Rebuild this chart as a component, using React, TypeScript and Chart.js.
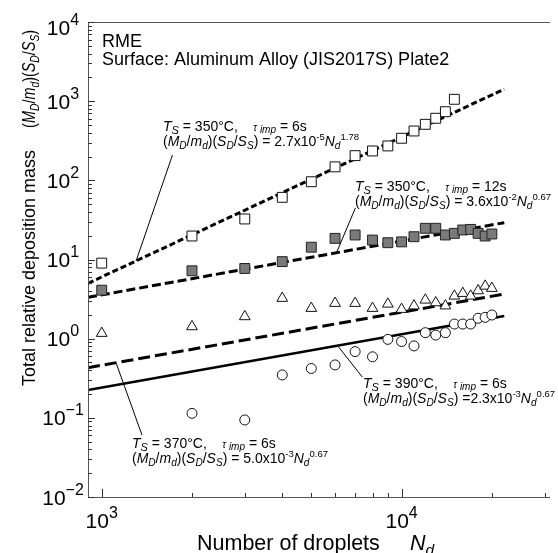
import React, { useEffect, useRef } from 'react';
import { Chart, registerables } from 'chart.js';

Chart.register(...registerables);

const FONT = '"Liberation Sans", Arial, Helvetica, sans-serif';

// ---- data ----
const nOpenSq = [1000, 2000, 3000, 4000, 5000, 6000, 7000, 8000, 9000, 10000, 11000, 12000, 13000, 14000, 15000];
const vOpenSq = [9.0, 19.8, 32.5, 61, 96, 148, 205, 235, 272, 340, 420, 510, 608, 736, 1056];

const nFilledSq = [1000, 2000, 3000, 4000, 5000, 6000, 7000, 8000, 9000, 10000, 11000, 12000, 13000, 14000, 15000, 16000, 17000, 18000, 19000, 20000];
const vFilledSq = [4.1, 7.2, 7.7, 9.4, 14.3, 18.5, 20.4, 17.6, 16.3, 16.7, 19.4, 24.8, 24.8, 20.4, 21.4, 23.6, 24.0, 21.4, 19.8, 21.0];

const nTri = [1000, 2000, 3000, 4000, 5000, 6000, 7000, 8000, 9000, 10000, 11000, 12000, 13000, 14000, 15000, 16000, 17000, 18000, 19000, 20000];
const vTri = [1.17, 1.42, 1.9, 3.24, 2.42, 2.8, 2.8, 2.42, 2.74, 2.35, 2.6, 3.08, 2.85, 2.6, 3.46, 3.74, 3.46, 4.04, 4.62, 4.33];

const nCirc = [2000, 3000, 4000, 5000, 6000, 7000, 8000, 9000, 10000, 11000, 12000, 13000, 14000, 15000, 16000, 17000, 18000, 19000, 20000];
const vCirc = [0.114, 0.094, 0.348, 0.42, 0.466, 0.686, 0.59, 0.98, 0.92, 0.81, 1.19, 1.11, 1.19, 1.53, 1.53, 1.53, 1.81, 1.86, 1.99];

// fitted power-law lines (end points)
const fitN = [900, 22000];
const fitOpenSq = [5.0, 1420];
const fitFilledSq = [3.33, 29.2];
const fitTri = [0.43, 3.66];
const fitCirc = [0.225, 1.93];

// axis ranges and ticks
const X_MIN = 900;
const X_MAX = 31260;
const Y_MIN = 0.01;
const Y_MAX = 10000;
const xMajorExp = [3, 4];
const yMajorExp = [-2, -1, 0, 1, 2, 3, 4];

// leader lines [N1, V1, N2, V2]
const leaders = [
  [1722, 209, 1302, 9.58],
  [7015, 44.8, 6080, 12.4],
  [6166, 0.785, 7396, 0.328],
  [1120, 0.479, 1362, 0.0607],
];

type Seg = { t: string; it?: boolean; sub?: boolean; sup?: boolean; sz?: number; dy?: number };

function segFont(s: Seg, base: number) {
  const size = s.sz ?? (s.sub ? base * 0.72 : s.sup ? base * 0.68 : base);
  return `${s.it ? 'italic ' : ''}${size}px ${FONT}`;
}
function measureRich(ctx: CanvasRenderingContext2D, segs: Seg[], base: number) {
  let w = 0;
  for (const s of segs) {
    ctx.font = segFont(s, base);
    w += ctx.measureText(s.t).width;
  }
  return w;
}
function drawRich(ctx: CanvasRenderingContext2D, segs: Seg[], x: number, y: number, base: number) {
  let cx = x;
  for (const s of segs) {
    ctx.font = segFont(s, base);
    const dy = s.dy ?? (s.sub ? base * 0.22 : s.sup ? -base * 0.45 : 0);
    ctx.fillText(s.t, cx, y + dy);
    cx += ctx.measureText(s.t).width;
  }
  return cx - x;
}

const mdSegs = (): Seg[] => [
  { t: '(' },
  { t: 'M', it: true },
  { t: 'D', it: true, sub: true },
  { t: '/' },
  { t: 'm', it: true },
  { t: 'd', it: true, sub: true },
  { t: ')(' },
  { t: 'S', it: true },
  { t: 'D', it: true, sub: true },
  { t: '/' },
  { t: 'S', it: true },
  { t: 'S', it: true, sub: true },
  { t: ')' },
];

function line1(temp: string, tau: string): Seg[] {
  return [
    { t: 'T', it: true },
    { t: 'S', it: true, sub: true, sz: 11 },
    { t: ` = ${temp}°C,    ` },
    { t: 'τ', it: true, sz: 10 },
    { t: ' imp', it: true, sz: 10, dy: 2 },
    { t: ` = ${tau}` },
  ];
}
function line2(eq: string, coef: string, exp: string, pw: string): Seg[] {
  return [
    ...mdSegs(),
    { t: eq + coef + 'x10' },
    { t: exp, sup: true },
    { t: 'N', it: true },
    { t: 'd', it: true, sub: true },
    { t: pw, sup: true },
  ];
}

const annotations = [
  { x: 163, y: 131, l1: line1('350', '6s'), l2: line2(' = ', '2.7', '-5', '1.78') },
  { x: 355, y: 191, l1: line1('350', '12s'), l2: line2(' = ', '3.6', '-2', '0.67') },
  { x: 363, y: 388, l1: line1('390', '6s'), l2: line2(' =', '2.3', '-3', '0.67') },
  { x: 132, y: 448, l1: line1('370', '6s'), l2: line2(' = ', '5.0', '-3', '0.67') },
];

const decorPlugin = {
  id: 'decor',
  afterDraw(chart: any) {
    const ctx: CanvasRenderingContext2D = chart.ctx;
    const xs = chart.scales.x;
    const ys = chart.scales.y;
    const { left, right, top, bottom } = chart.chartArea;
    ctx.save();
    // axis frame
    ctx.strokeStyle = '#555';
    ctx.lineWidth = 1;
    ctx.beginPath();
    ctx.moveTo(left + 0.5, top);
    ctx.lineTo(left + 0.5, bottom + 0.5);
    ctx.lineTo(right, bottom + 0.5);
    ctx.moveTo(left, top + 0.5);
    ctx.lineTo(right, top + 0.5);
    ctx.stroke();

    // y ticks (inward)
    ctx.strokeStyle = '#333';
    ctx.beginPath();
    for (let e = -2; e <= 4; e++) {
      for (let m = 1; m <= 9; m++) {
        const v = m * Math.pow(10, e);
        if (v < Y_MIN || v > Y_MAX) continue;
        const py = Math.round(ys.getPixelForValue(v)) + 0.5;
        const len = m === 1 ? 7 : 4;
        ctx.moveTo(left, py);
        ctx.lineTo(left + len, py);
      }
    }
    // x ticks (inward)
    for (let e = 2; e <= 4; e++) {
      for (let m = 1; m <= 9; m++) {
        const v = m * Math.pow(10, e);
        if (v <= X_MIN || v > X_MAX) continue;
        const px = Math.round(xs.getPixelForValue(v)) + 0.5;
        const len = m === 1 ? 8 : 4;
        ctx.moveTo(px, bottom);
        ctx.lineTo(px, bottom - len);
      }
    }
    ctx.stroke();

    ctx.fillStyle = '#000';
    ctx.textBaseline = 'alphabetic';
    ctx.textAlign = 'left';
    const tickBase = 21;
    // y tick labels
    for (const e of yMajorExp) {
      const py = Math.max(ys.getPixelForValue(Math.pow(10, e)), top + 5);
      const segs: Seg[] = [{ t: '10' }, { t: e < 0 ? '\u2212' + Math.abs(e) : String(e), sz: 16, dy: -10 }];
      const w = measureRich(ctx, segs, tickBase);
      drawRich(ctx, segs, 63 - w / 2, py + 7.5, tickBase);
    }
    // x tick labels
    for (const e of xMajorExp) {
      const px = xs.getPixelForValue(Math.pow(10, e));
      const segs: Seg[] = [{ t: '10' }, { t: String(e), sz: 16, dy: -10 }];
      const w = measureRich(ctx, segs, tickBase);
      drawRich(ctx, segs, px - w / 2, 528, tickBase);
    }

    // axis titles
    drawRich(ctx, [{ t: 'Number of droplets' }], 197, 550, 21.5);
    drawRich(ctx, [{ t: 'N', it: true }, { t: 'd', it: true, sub: true }], 410, 550, 21.5);

    ctx.save();
    ctx.translate(35, 386);
    ctx.rotate(-Math.PI / 2);
    const wMain = drawRich(ctx, [{ t: 'Total relative deposition mass' }], 0, 0, 18);
    ctx.translate(wMain + 22, 0);
    ctx.scale(0.8, 1);
    drawRich(ctx, mdSegs(), 0, 0, 18);
    ctx.restore();

    // header text
    drawRich(ctx, [{ t: 'RME' }], 102, 47, 18);
    drawRich(ctx, [{ t: 'Surface: Aluminum Alloy (JIS2017S) Plate2' }], 102, 65, 18);

    // leader lines
    ctx.strokeStyle = '#000';
    ctx.lineWidth = 1;
    ctx.beginPath();
    for (const [n1, v1, n2, v2] of leaders) {
      ctx.moveTo(xs.getPixelForValue(n1), ys.getPixelForValue(v1));
      ctx.lineTo(xs.getPixelForValue(n2), ys.getPixelForValue(v2));
    }
    ctx.stroke();

    // annotations
    for (const a of annotations) {
      drawRich(ctx, a.l1, a.x, a.y, 14);
      drawRich(ctx, a.l2, a.x, a.y + 15, 14);
    }
    ctx.restore();
  },
};

function pts(ns: number[], vs: number[]) {
  return ns.map((n, i) => ({ x: n, y: vs[i] }));
}

export default function App() {
  const ref = useRef<HTMLCanvasElement>(null);
  useEffect(() => {
    if (!ref.current) return;
    const markerBase = { showLine: false, borderColor: '#111', borderWidth: 1, pointBorderWidth: 1 };
    const lineBase = { showLine: true, pointRadius: 0, borderColor: '#000', fill: false, tension: 0 };
    const chart = new Chart(ref.current, {
      type: 'scatter',
      data: {
        datasets: [
          { ...markerBase, label: 'open', data: pts(nOpenSq, vOpenSq), pointStyle: 'rect', pointRadius: 7, backgroundColor: '#fff', order: 1 },
          { ...markerBase, label: 'filled', data: pts(nFilledSq, vFilledSq), pointStyle: 'rect', pointRadius: 7, backgroundColor: '#7a7a7a', borderColor: '#222', order: 1 },
          { ...markerBase, label: 'tri', data: pts(nTri, vTri), pointStyle: 'triangle', pointRadius: 6.2, backgroundColor: '#fff', order: 1 },
          { ...markerBase, label: 'circ', data: pts(nCirc, vCirc), pointStyle: 'circle', pointRadius: 5, backgroundColor: '#fff', order: 1 },
          { ...lineBase, label: 'fitOpen', data: pts(fitN, fitOpenSq), borderWidth: 3, borderDash: [6, 3], order: 2 },
          { ...lineBase, label: 'fitFilled', data: pts(fitN, fitFilledSq), borderWidth: 3, borderDash: [9, 4], order: 2 },
          { ...lineBase, label: 'fitTri', data: pts(fitN, fitTri), borderWidth: 3, borderDash: [12, 5], order: 2 },
          { ...lineBase, label: 'fitCirc', data: pts(fitN, fitCirc), borderWidth: 2.5, order: 2 },
        ] as any,
      },
      options: {
        responsive: false,
        maintainAspectRatio: false,
        animation: false,
        layout: { padding: { left: 88, top: 22, right: 0, bottom: 56 } },
        plugins: { legend: { display: false }, tooltip: { enabled: false } },
        scales: {
          x: { type: 'logarithmic', min: X_MIN, max: X_MAX, display: false },
          y: { type: 'logarithmic', min: Y_MIN, max: Y_MAX, display: false },
        },
      },
      plugins: [decorPlugin],
    });
    return () => chart.destroy();
  }, []);
  return (
    <div style={{ position: 'fixed', left: 0, top: 0, width: 558, height: 553, background: '#fff' }}>
      <canvas ref={ref} width={558} height={553} style={{ display: 'block' }} />
    </div>
  );
}
